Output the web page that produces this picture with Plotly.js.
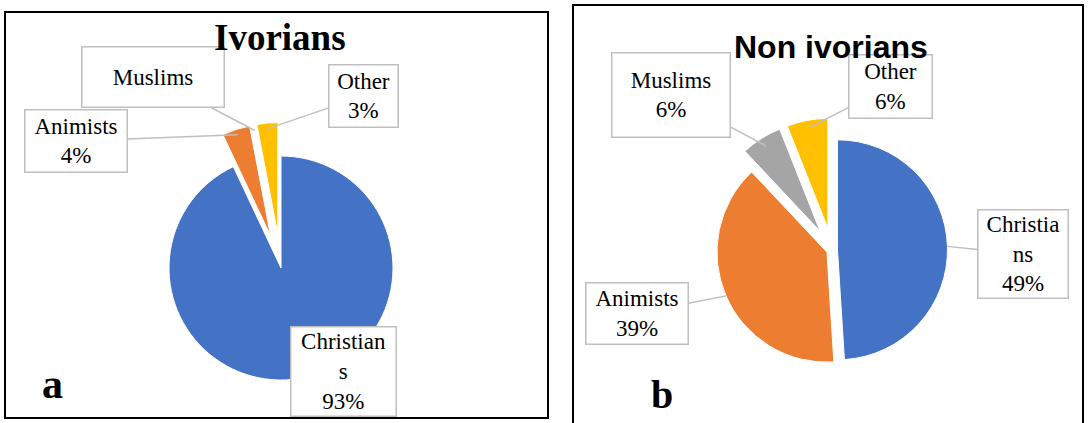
<!DOCTYPE html>
<html>
<head>
<meta charset="utf-8">
<script src="https://cdn.plot.ly/plotly-3.0.1.min.js"></script>
<style>
  html, body { margin: 0; padding: 0; background: #fff; }
  #chart { width: 1088px; height: 423px; }
</style>
</head>
<body>
<div id="chart"></div>
<script>
// Religious affiliation: Ivorians (a) and non-Ivorians (b)
const categories = ['Christians', 'Animists', 'Muslims', 'Other'];
const ivorianShares = [93, 4, 0, 3];
const nonIvorianShares = [49, 39, 6, 6];
const sliceColors = ['#4472C4', '#ED7D31', '#A5A5A5', '#FFC000'];
const panelTitles = ['Ivorians', 'Non ivorians'];
const panelLetters = ['a', 'b'];

const W = 1088, H = 423;
const SERIF = 'Liberation Serif';
const SANS = 'Liberation Sans';

// Pie geometry in page pixels (centre, radius, explode amount per slice)
const pies = [
  { values: ivorianShares,    cx: 281, cy: 268, r: 112, pull: [0, 0.3, 0.3, 0.3] },
  { values: nonIvorianShares, cx: 832, cy: 250, r: 110, pull: [0.05, 0.05, 0.2, 0.2] }
];

// Callout boxes per slice: centre, size, where the word wraps, leader reach
const callouts = [
  [ { cx: 343.5, cy: 371.5, w: 107, h: 91, split: 9, leader: false },
    { cx: 76,    cy: 141,   w: 104, h: 64, tip: 0.95 },
    { cx: 153,   cy: 77,    w: 144, h: 62, tip: 0.95 },
    { cx: 363.5, cy: 96,    w: 71,  h: 64, tip: 0.95 } ],
  [ { cx: 1023,  cy: 254,   w: 92,  h: 90, split: 8, tip: 1.0 },
    { cx: 637,   cy: 313.5, w: 104, h: 63, tip: 1.0 },
    { cx: 671,   cy: 95,    w: 120, h: 86, tip: 0.92 },
    { cx: 890.5, cy: 86,    w: 85,  h: 65, tip: 0.93 } ]
];

const titleSpots = [
  { x: 280, y: 37, font: { family: SERIF, size: 37, color: '#000' } },
  { x: 831, y: 47, font: { family: SANS, size: 32, color: '#000' } }
];
const letterSpots = [
  { x: 52, y: 384, size: 42 },
  { x: 662, y: 394, size: 40 }
];

const panels = [
  { x0: 5, x1: 548, y0: 12, y1: 418 },
  { x0: 573, x1: 1083, y0: 5, y1: 430 }
];

const BORDER = 1.5;
const labelFont = { family: SERIF, size: 23, color: '#000' };

const px = x => x / W;
const py = y => 1 - y / H;

const traces = [];
const annotations = [];

pies.forEach((pie, p) => {
  const maxPull = Math.max.apply(null, pie.pull);
  const half = pie.r * (1 + maxPull);
  traces.push({
    type: 'pie',
    values: pie.values,
    labels: categories,
    sort: false,
    direction: 'clockwise',
    rotation: 0,
    pull: pie.pull,
    marker: { colors: sliceColors, line: { color: '#ffffff', width: 1 } },
    textinfo: 'none',
    hoverinfo: 'skip',
    showlegend: false,
    domain: {
      x: [px(pie.cx - half), px(pie.cx + half)],
      y: [py(pie.cy + half), py(pie.cy - half)]
    }
  });

  const total = pie.values.reduce((a, b) => a + b, 0);
  let cum = 0;
  pie.values.forEach((v, i) => {
    const start = 360 * cum / total;
    const mid = (start + 180 * v / total) * Math.PI / 180;
    cum += v;
    const box = callouts[p][i];
    const name = categories[i];
    const shown = box.split ? name.slice(0, box.split) + '<br>' + name.slice(box.split) : name;
    const text = v > 0 ? shown + '<br>' + v + '%' : shown;
    const common = {
      xref: 'paper', yref: 'paper',
      text: text,
      font: labelFont,
      bgcolor: '#ffffff',
      bordercolor: '#BFBFBF',
      borderwidth: BORDER,
      borderpad: 0,
      width: box.w - 2 * BORDER,
      height: box.h - 2 * BORDER,
      align: 'center',
      valign: 'middle'
    };
    if (box.leader === false) {
      annotations.push(Object.assign(common, {
        x: px(box.cx), y: py(box.cy), xanchor: 'center', yanchor: 'middle', showarrow: false
      }));
    } else {
      const sx = Math.sin(mid), sy = -Math.cos(mid);
      const ox = pie.cx + pie.pull[i] * pie.r * sx;
      const oy = pie.cy + pie.pull[i] * pie.r * sy;
      const tx = ox + box.tip * pie.r * sx;
      const ty = oy + box.tip * pie.r * sy;
      annotations.push(Object.assign(common, {
        x: px(tx), y: py(ty),
        ax: box.cx - tx, ay: box.cy - ty,
        showarrow: true, arrowhead: 0, arrowwidth: 1.5, arrowcolor: '#BFBFBF', standoff: 0
      }));
    }
  });
});

panelTitles.forEach((t, i) => {
  annotations.push({
    xref: 'paper', yref: 'paper', x: px(titleSpots[i].x), y: py(titleSpots[i].y),
    xanchor: 'center', yanchor: 'middle', showarrow: false,
    text: '<b>' + t + '</b>', font: titleSpots[i].font
  });
});

panelLetters.forEach((t, i) => {
  annotations.push({
    xref: 'paper', yref: 'paper', x: px(letterSpots[i].x), y: py(letterSpots[i].y),
    xanchor: 'center', yanchor: 'middle', showarrow: false,
    text: '<b>' + t + '</b>',
    font: { family: SERIF, size: letterSpots[i].size, color: '#000' }
  });
});

const shapes = panels.map(b => ({
  type: 'rect', xref: 'paper', yref: 'paper',
  x0: px(b.x0), x1: px(b.x1), y0: py(b.y1), y1: py(b.y0),
  line: { color: '#000', width: 2 }, fillcolor: 'rgba(0,0,0,0)', layer: 'below'
}));

const layout = {
  width: W, height: H,
  margin: { l: 0, r: 0, t: 0, b: 0 },
  paper_bgcolor: '#ffffff',
  plot_bgcolor: '#ffffff',
  showlegend: false,
  font: { family: SERIF, color: '#000' },
  shapes: shapes,
  annotations: annotations
};

Plotly.newPlot('chart', traces, layout, { staticPlot: true, displayModeBar: false });
</script>
</body>
</html>
